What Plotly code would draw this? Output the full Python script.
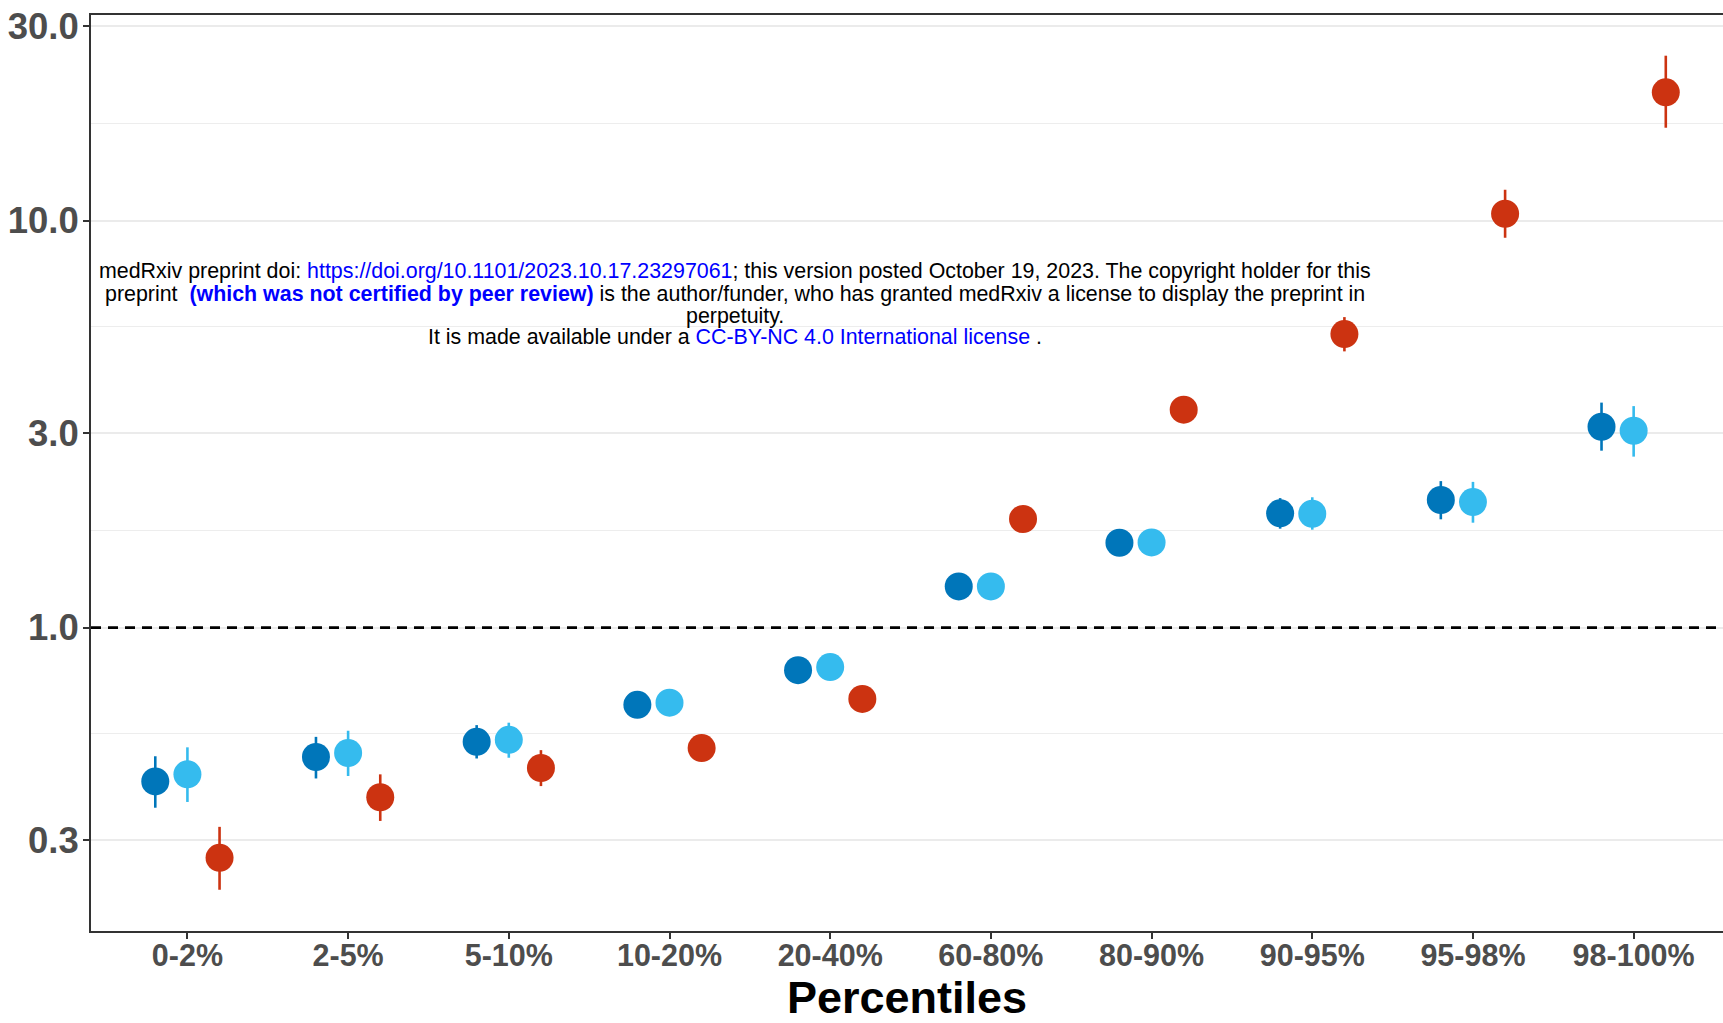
import plotly.graph_objects as go

# categories on the x axis
percentiles = ['0-2%', '2-5%', '5-10%', '10-20%', '20-40%',
               '60-80%', '80-90%', '90-95%', '95-98%', '98-100%']

# estimates with lower / upper confidence limits
dark_est = [0.419, 0.481, 0.524, 0.646, 0.786, 1.262, 1.616, 1.908, 2.058, 3.114]
dark_lo = [0.361, 0.426, 0.477, 0.615, 0.755, 1.210, 1.530, 1.750, 1.845, 2.720]
dark_hi = [0.483, 0.539, 0.576, 0.680, 0.818, 1.315, 1.705, 2.080, 2.290, 3.570]

light_est = [0.436, 0.492, 0.530, 0.654, 0.800, 1.262, 1.619, 1.904, 2.034, 3.045]
light_lo = [0.373, 0.432, 0.479, 0.622, 0.770, 1.205, 1.525, 1.740, 1.810, 2.630]
light_hi = [0.508, 0.558, 0.584, 0.688, 0.830, 1.320, 1.715, 2.090, 2.280, 3.500]

red_est = [0.272, 0.383, 0.452, 0.506, 0.668, 1.848, 3.430, 5.260, 10.39, 20.65]
red_lo = [0.227, 0.335, 0.408, 0.482, 0.640, 1.760, 3.220, 4.770, 9.070, 16.90]
red_hi = [0.324, 0.436, 0.500, 0.531, 0.697, 1.940, 3.650, 5.790, 11.90, 25.40]

y_ticks = [0.3, 1, 3, 10, 30]
y_ticktext = ['0.3', '1.0', '3.0', '10.0', '30.0']
y_minor = [0.164, 0.548, 1.73, 5.48, 17.3]

series = [
    ('Model 1', dark_est, dark_lo, dark_hi, '#0076BA', -0.2),
    ('Model 2', light_est, light_lo, light_hi, '#35BBEE', 0.0),
    ('Model 3', red_est, red_lo, red_hi, '#CC3311', 0.2),
]

FONT = 'Liberation Sans, Arial, Helvetica, sans-serif'

fig = go.Figure()
for name, est, lo, hi, color, shift in series:
    xs = [i + shift for i in range(len(percentiles))]
    fig.add_trace(go.Scatter(
        x=xs, y=est, mode='markers', name=name,
        marker=dict(size=28, color=color),
        error_y=dict(type='data', symmetric=False,
                     array=[h - e for h, e in zip(hi, est)],
                     arrayminus=[e - l for e, l in zip(est, lo)],
                     color=color, thickness=2.6, width=0),
        customdata=percentiles,
        hovertemplate='%{customdata}: %{y:.2f}<extra>' + name + '</extra>'))

# reference line at 1
fig.add_hline(y=1, line=dict(color='black', width=2.6, dash='10px,7px'), layer='above')

fig.update_xaxes(
    range=[-0.6, 9.556], tickvals=list(range(len(percentiles))), ticktext=percentiles,
    showgrid=False, zeroline=False, automargin=False,
    showline=True, mirror=True, linecolor='#333333', linewidth=2,
    ticks='outside', ticklen=6, tickwidth=2, tickcolor='#333333',
    ticklabelstandoff=-10,
    tickfont=dict(family=FONT, size=30.5, color='#4D4D4D', weight=700),
    title=dict(text='Percentiles', standoff=18,
               font=dict(family=FONT, size=45, color='black', weight=700)))

fig.update_yaxes(
    type='log', range=[-0.7453, 1.5048],
    tickvals=y_ticks, ticktext=y_ticktext, automargin=False,
    showgrid=True, gridcolor='#EBEBEB', gridwidth=2, zeroline=False,
    minor=dict(tickvals=y_minor, showgrid=True, gridcolor='#EDEDED', gridwidth=1, ticks=''),
    showline=True, mirror=False, linecolor='#333333', linewidth=2,
    ticks='outside', ticklen=6, tickwidth=2, tickcolor='#333333',
    ticklabelstandoff=-3,
    tickfont=dict(family=FONT, size=36.5, color='#4D4D4D', weight=700))

# medRxiv stamp, one annotation per line
blue = '#0000FF'
stamp = [
    ('medRxiv preprint doi: <span style="color:%s">https://doi.org/10.1101/2023.10.17.23297061</span>'
     '; this version posted October 19, 2023. The copyright holder for this' % blue, 0.7200),
    ('preprint\u00a0 <span style="color:%s"><b>(which was not certified by peer review)</b></span>'
     ' is the author/funder, who has granted medRxiv a license to display the preprint in' % blue, 0.6950),
    ('perpetuity.', 0.6713),
    ('It is made available under a <span style="color:%s">CC-BY-NC 4.0 International license</span> .' % blue,
     0.6487),
]
for text, ypos in stamp:
    fig.add_annotation(text=text, xref='paper', yref='paper', x=0.3949, y=ypos,
                       xanchor='center', yanchor='middle', showarrow=False,
                       font=dict(family=FONT, size=21.4, color='black'))

fig.update_layout(
    width=1723, height=1023,
    margin=dict(l=91, r=0, t=15, b=92, autoexpand=False),
    plot_bgcolor='white', paper_bgcolor='white',
    showlegend=False,
    font=dict(family=FONT),
)

# drop the page's default body margin so the figure fills the window
fig.write_html("out.html", config={'displayModeBar': False},
               post_script="document.body.style.margin='0';")
